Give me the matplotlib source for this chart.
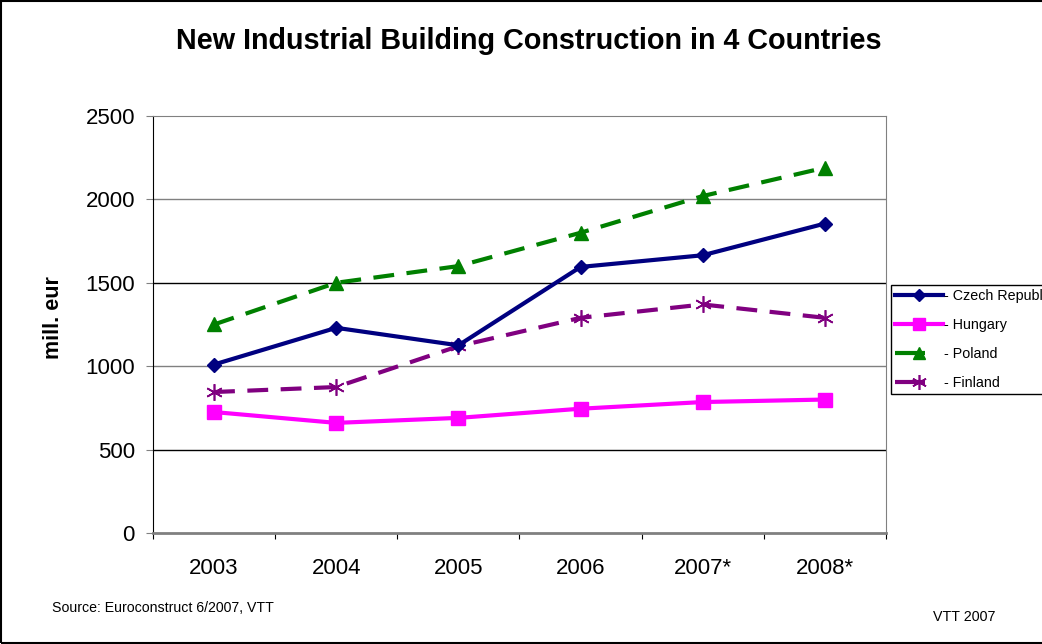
import numpy as np
import matplotlib
matplotlib.use('Agg')
import matplotlib.pyplot as plt
from matplotlib.lines import Line2D
from matplotlib.patches import Rectangle

plt.rcParams['font.family'] = ['Liberation Sans', 'DejaVu Sans']

years = ['2003', '2004', '2005', '2006', '2007*', '2008*']
czech = [1010, 1230, 1125, 1595, 1665, 1855]
hungary = [725, 660, 690, 745, 785, 800]
poland = [1250, 1500, 1600, 1800, 2020, 2190]
finland = [845, 875, 1120, 1290, 1370, 1290]

fig = plt.figure(figsize=(10.42, 6.44), dpi=100)
ax = fig.add_axes([0.1468, 0.1724, 0.7035, 0.6475])
x = np.arange(len(years))

# grid lines (alternating tones like the old spreadsheet export)
for v, c in [(500, 'black'), (1000, '#808080'), (1500, 'black'), (2000, '#808080')]:
    ax.axhline(v, color=c, lw=1, zorder=1)

styles = [
    (czech, '- Czech Republic', dict(color='#000080', marker='D', ms=7), False),
    (hungary, '- Hungary', dict(color='#FF00FF', marker='s', ms=10), False),
    (poland, '- Poland', dict(color='#008000', marker='^', ms=10), True),
    (finland, '- Finland', dict(color='#800080', marker=(6, 2, 0), ms=12, mew=1.2), True),
]

handles = []
for vals, lab, st, dashed in styles:
    ls = (0, (5, 3)) if dashed else '-'
    ax.plot(x, vals, lw=3, ls=ls, zorder=3 if dashed else 4, **st)
    # legend proxy: dashed series show only a single short dash
    hls = (0, (7.2, 40)) if dashed else '-'
    handles.append(Line2D([], [], lw=3, ls=hls, label=lab, **st))

ax.set_xlim(-0.5, len(years) - 0.5)
ax.set_ylim(0, 2500)
ax.set_yticks(np.arange(0, 2501, 500))
ax.set_xticks(np.arange(-0.5, len(years), 1))
ax.set_xticklabels([])
ax.set_xticks(x, minor=True)
ax.set_xticklabels(years, minor=True)
ax.tick_params(axis='x', which='major', length=4.5, direction='out', color='black')
ax.tick_params(axis='x', which='minor', length=0, pad=18, labelsize=16)
ax.tick_params(axis='y', length=5, direction='out', color='#808080', labelsize=16, pad=8)

ax.spines['left'].set_color('black')
ax.spines['bottom'].set_color('#808080')
ax.spines['bottom'].set_linewidth(2)
ax.spines['top'].set_color('#808080')
ax.spines['right'].set_color('#808080')

ax.set_ylabel('mill. eur', fontsize=15.5, fontweight='bold')
ax.yaxis.set_label_coords(-0.121, 0.516)
fig.text(0.507, 0.936, 'New Industrial Building Construction in 4 Countries',
         ha='center', va='center', fontsize=20.7, fontweight='bold')

leg = ax.legend(handles=handles, loc='upper left', bbox_to_anchor=(1.0068, 0.5947),
                borderaxespad=0, fontsize=10.3, frameon=True, fancybox=False,
                edgecolor='black', framealpha=1, handlelength=3.36, handletextpad=0.05,
                labelspacing=1.04, borderpad=0.3, markerscale=0.9)
leg.get_frame().set_linewidth(1)

fig.text(0.05, 0.056, 'Source: Euroconstruct 6/2007, VTT', fontsize=10.2, ha='left', va='center')
fig.text(0.955, 0.042, 'VTT 2007', fontsize=10.3, ha='right', va='center')

fig.patches.append(Rectangle((0.001, 0.001), 1.2, 0.997, transform=fig.transFigure,
                             fill=False, edgecolor='black', lw=1.5))

fig.savefig('out.png', dpi=100)
